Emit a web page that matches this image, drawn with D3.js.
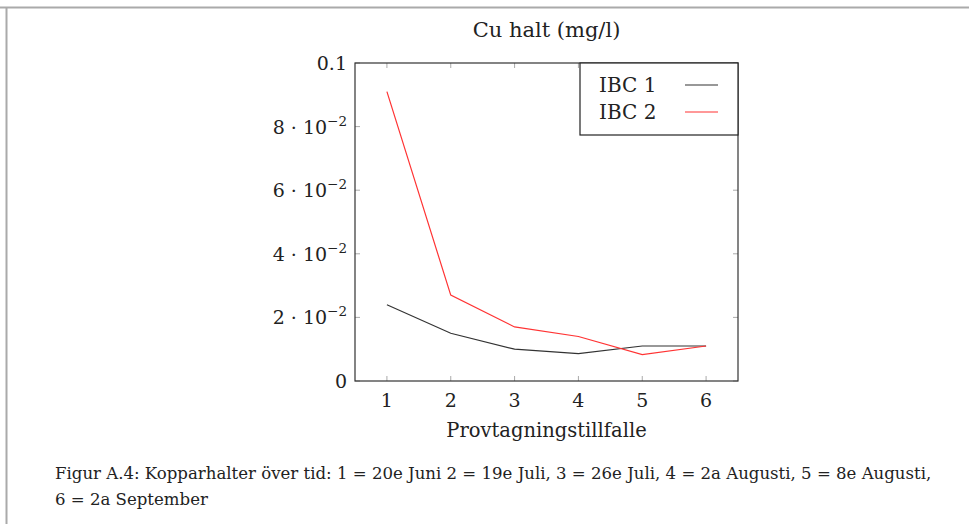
<!DOCTYPE html>
<html><head><meta charset="utf-8">
<script src="https://cdn.jsdelivr.net/npm/d3@7"></script>
<style>
body{margin:0;background:#fff;}
svg text{font-family:"DejaVu Serif","Liberation Serif",serif;fill:#222;}
</style></head>
<body><svg id="c" width="969" height="524"></svg>
<script>
const categories = [1, 2, 3, 4, 5, 6];
const ibc1 = [0.024, 0.015, 0.010, 0.0086, 0.011, 0.011];
const ibc2 = [0.091, 0.027, 0.017, 0.014, 0.0083, 0.011];
const yTicks = [0, 0.02, 0.04, 0.06, 0.08, 0.1];
const yTickMant = ["0", "2", "4", "6", "8", "0.1"];
const seriesNames = ["IBC 1", "IBC 2"];
const seriesColors = ["#333", "#ff3333"];
const title = "Cu halt (mg/l)";
const xLabel = "Provtagningstillfalle";
const caption1 = "Figur A.4: Kopparhalter över tid: 1 = 20e Juni 2 = 19e Juli, 3 = 26e Juli, 4 = 2a Augusti, 5 = 8e Augusti,";
const caption2 = "6 = 2a September";

const svg = d3.select("#c");
svg.append("line").attr("x1",0).attr("x2",969).attr("y1",7.5).attr("y2",7.5).attr("stroke","#aaa").attr("stroke-width",2);
svg.append("line").attr("x1",6.5).attr("x2",6.5).attr("y1",7).attr("y2",524).attr("stroke","#aaa").attr("stroke-width",2);

const L=355, R=738, T=63, B=381;
const x = d3.scaleLinear().domain([0.5,6.5]).range([L,R]);
const y = d3.scaleLinear().domain([0,0.1]).range([B,T]);

const g = svg.append("g");
const tk = 5;
categories.forEach(c=>{
  g.append("line").attr("x1",x(c)).attr("x2",x(c)).attr("y1",B).attr("y2",B-tk).attr("stroke","#aaa");
  g.append("line").attr("x1",x(c)).attr("x2",x(c)).attr("y1",T).attr("y2",T+tk).attr("stroke","#aaa");
  g.append("text").attr("x",x(c)).attr("y",B+26).attr("text-anchor","middle").attr("font-size",19).text(c);
});
yTicks.forEach((v,i)=>{
  g.append("line").attr("x1",L).attr("x2",L+tk).attr("y1",y(v)).attr("y2",y(v)).attr("stroke","#aaa");
  g.append("line").attr("x1",R).attr("x2",R-tk).attr("y1",y(v)).attr("y2",y(v)).attr("stroke","#aaa");
  const t = g.append("text").attr("x",L-8).attr("y",y(v)+7).attr("text-anchor","end").attr("font-size",19);
  if (v===0 || v===0.1) { t.text(yTickMant[i]); }
  else {
    t.append("tspan").text(yTickMant[i]+" · 10");
    t.append("tspan").attr("dy",-8).attr("font-size",13.5).text("−2");
  }
});

const line = d3.line().x((d,i)=>x(categories[i])).y(d=>y(d));
[ibc1, ibc2].forEach((s,k)=>{
  g.append("path").datum(s).attr("d",line).attr("fill","none").attr("stroke",seriesColors[k]).attr("stroke-width",1.2);
});

g.append("rect").attr("x",L).attr("y",T).attr("width",R-L).attr("height",B-T).attr("fill","none").attr("stroke","#333").attr("stroke-width",1.2);

const lg = svg.append("g");
lg.append("rect").attr("x",580).attr("y",T).attr("width",R-580).attr("height",72).attr("fill","#fff").attr("stroke","#222").attr("stroke-width",1.2);
seriesNames.forEach((n,k)=>{
  const cy = 85 + k*27;
  lg.append("text").attr("x",599).attr("y",cy+7).attr("font-size",20).text(n);
  lg.append("line").attr("x1",685).attr("x2",718).attr("y1",cy).attr("y2",cy).attr("stroke",seriesColors[k]).attr("stroke-width",1.2);
});

svg.append("text").attr("x",(L+R)/2).attr("y",37).attr("text-anchor","middle").attr("font-size",21).text(title);
svg.append("text").attr("x",(L+R)/2).attr("y",437).attr("text-anchor","middle").attr("font-size",19.5).text(xLabel);
const c1 = svg.append("text").attr("x",55).attr("y",479).attr("font-size",16).text(caption1);
const w = c1.node().getComputedTextLength();
c1.attr("font-size", 16*877/w);
svg.append("text").attr("x",55).attr("y",505).attr("font-size",16*877/w).text(caption2);
</script></body></html>
